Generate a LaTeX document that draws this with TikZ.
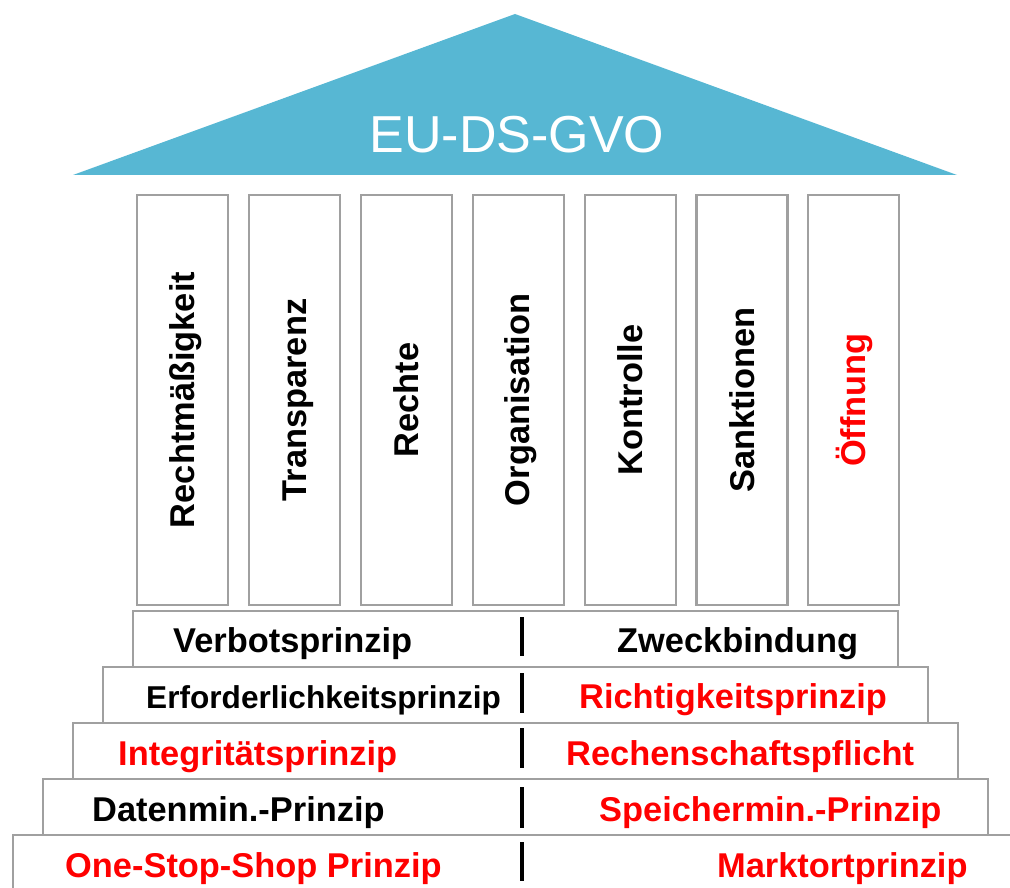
\documentclass[tikz,border=0pt]{standalone}
\usepackage{fontspec}
\setmainfont{Liberation Sans}
\usepackage{xcolor}

\definecolor{roofblue}{RGB}{87,183,211}
\definecolor{framegray}{RGB}{160,160,160}
\definecolor{accentred}{RGB}{255,0,0}

\tikzset{
  pillar/.style={draw=framegray, line width=2.8pt, minimum width=91pt, minimum height=410pt, inner sep=0pt},
  pillartext/.style={rotate=90, anchor=base, inner sep=0pt, font=\fontsize{34.4}{40}\selectfont\bfseries},
  stepbox/.style={draw=framegray, line width=2.8pt},
  steptext/.style={anchor=base west, inner sep=0pt, font=\fontsize{34.4}{40}\selectfont\bfseries},
  divider/.style={line width=4pt}
}

\begin{document}
\begin{tikzpicture}[x=1pt, y=-1pt]
					\useasboundingbox (0,0) rectangle (1010,888);
					\clip (0,0) rectangle (1010,888);
					
					% Roof
					\fill[roofblue] (73,175) -- (515,14) -- (957,175) -- cycle;
					\node[anchor=base, inner sep=0pt, text=white, font=\fontsize{52}{60}\selectfont] (title) at (517,153) {EU-DS-GVO};
					
					% Pillars
					\node[pillar] (rechtm) at (182.5,400) {};
					\node[pillartext] (rechtmtxt) at ([xshift=59pt]rechtm.west) {Rechtmäßigkeit};
					\node[pillar] (transp) at (294.5,400) {};
					\node[pillartext] (transptxt) at ([xshift=59pt]transp.west) {Transparenz};
					\node[pillar] (rechte) at (406.5,400) {};
					\node[pillartext] (rechtetxt) at ([xshift=59pt]rechte.west) {Rechte};
					\node[pillar] (organ) at (518.5,400) {};
					\node[pillartext] (organtxt) at ([xshift=58pt]organ.west) {Organisation};
					\node[pillar] (kontr) at (630.5,400) {};
					\node[pillartext] (kontrtxt) at ([xshift=59pt]kontr.west) {Kontrolle};
					\node[pillar] (sankt) at (742,400) {};
					\node[pillartext] (sankttxt) at ([xshift=59pt]sankt.west) {Sanktionen};
					\node[pillar] (oeffn) at (853.5,400) {};
					\node[pillartext, text=accentred] (oeffntxt) at ([xshift=59pt]oeffn.west) {Öffnung};
					
					% Steps
					\draw[stepbox] (133,611) rectangle (898,667);
					\node[steptext] (verbot) at (173,652) {Verbotsprinzip};
					\node[steptext] (zweck) at (617,652) {Zweckbindung};
					\draw[divider] (522,617) -- (522,656);
					
					\draw[stepbox] (103,667) rectangle (928,723);
					\node[steptext, font=\fontsize{31.6}{36}\selectfont\bfseries] (erford) at (146,708) {Erforderlichkeitsprinzip};
					\node[steptext, text=accentred] (richtig) at (579,708) {Richtigkeitsprinzip};
					\draw[divider] (522,673) -- (522,713);
					
					\draw[stepbox] (73,723) rectangle (958,779);
					\node[steptext, text=accentred] (integr) at (118,765) {Integritätsprinzip};
					\node[steptext, text=accentred] (rechensch) at (566,765) {Rechenschaftspflicht};
					\draw[divider] (522,728) -- (522,768);
					
					\draw[stepbox] (43,779) rectangle (988,835);
					\node[steptext] (datenmin) at (92,821) {Datenmin.-Prinzip};
					\node[steptext, text=accentred] (speichermin) at (599,821) {Speichermin.-Prinzip};
					\draw[divider] (522,787) -- (522,828);
					
					\draw[stepbox] (13,835) rectangle (1030,900);
					\node[steptext, text=accentred] (onestop) at (65,877) {One-Stop-Shop Prinzip};
					\node[steptext, text=accentred] (marktort) at (717,877) {Marktortprinzip};
					\draw[divider] (522,842) -- (522,881);
				\end{tikzpicture}
\end{document}
